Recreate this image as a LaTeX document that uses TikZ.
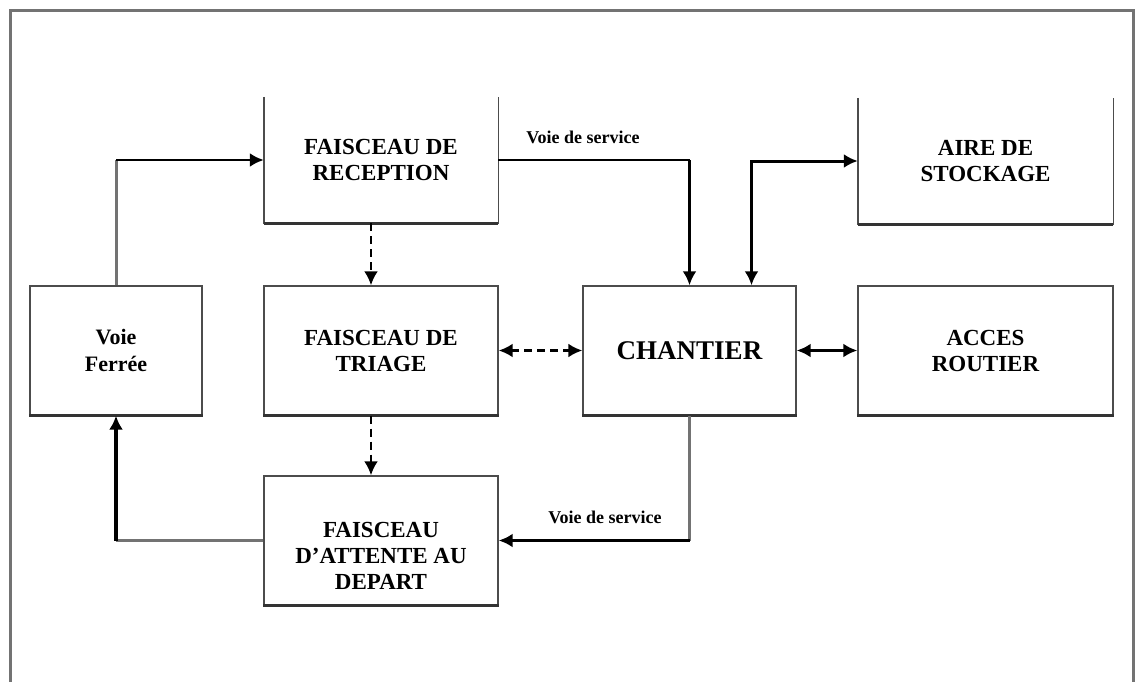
\documentclass[tikz,border=0pt]{standalone}
\usepackage{fontspec}
\setmainfont{Liberation Serif}
\usetikzlibrary{arrows.meta}
\begin{document}
\begin{tikzpicture}[x=1pt,y=-1pt,
  boxtext/.style={rectangle, align=center, inner sep=0pt, font=\bfseries\fontsize{23}{26}\selectfont},
  boxnode/.style={boxtext, draw=black!70, line width=1.4pt},
  boxline/.style={draw=black!70, line width=1.4pt},
  bottomline/.style={draw=black!80, line width=3pt},
  conn/.style={draw=black, line width=2.8pt},
  grayconn/.style={draw=black!55, line width=3pt},
  dashconn/.style={draw=black, line width=2.6pt, dash pattern=on 8pt off 5pt},
  tip/.style={-{Latex[length=14pt,width=14pt]}},
  tips/.style={{Latex[length=14pt,width=14pt]}-{Latex[length=14pt,width=14pt]}},
  lab/.style={inner sep=0pt, font=\bfseries\fontsize{18}{20}\selectfont}
]
\useasboundingbox (0,0) rectangle (1137,682);
% outer frame
\draw[black!55, line width=3pt] (10,700) -- (10,11) -- (1133,11) -- (1133,700);

% boxes
\node[boxtext, minimum width=234pt, minimum height=126pt] (rec) at (381,160) {FAISCEAU DE\\RECEPTION};
\node[boxtext, minimum width=255pt, minimum height=126pt] (sto) at (985.5,161) {AIRE DE\\STOCKAGE};
\draw[boxline] (rec.north west) -- (rec.south west) -- (rec.south east) -- (rec.north east);
\draw[boxline] (sto.north west) -- (sto.south west) -- (sto.south east) -- (sto.north east);

\node[boxnode, minimum width=172pt, minimum height=129pt, font=\bfseries\fontsize{22}{27}\selectfont] (vf) at (116,350.5) {Voie\\Ferrée};
\node[boxnode, minimum width=234pt, minimum height=129pt] (tri) at (381,350.5) {FAISCEAU DE\\TRIAGE};
\node[boxnode, minimum width=213pt, minimum height=129pt, font=\bfseries\fontsize{27}{30}\selectfont] (cha) at (689.5,350.5) {CHANTIER};
\node[boxnode, minimum width=255pt, minimum height=129pt] (acc) at (985.5,350.5) {ACCES\\ROUTIER};
\node[boxnode, minimum width=234pt, minimum height=129pt] (att) at (381,540.5) {};
\node[boxtext] (attT) at (381,556) {FAISCEAU\\D'ATTENTE AU\\DEPART};

\foreach \b in {rec,sto,vf,tri,cha,acc,att}
  \draw[bottomline] (\b.south west) -- (\b.south east);

% connectors
\coordinate (c1) at (vf.north |- rec.west);
\draw[grayconn] (vf.north) -- (c1);
\draw[conn, tip] (c1) -- (rec.west);

\draw[dashconn, tip] ([xshift=-10pt]rec.south) -- ([xshift=-10pt]tri.north);
\draw[dashconn, tip] ([xshift=-10pt]tri.south) -- ([xshift=-10pt]att.north);
\draw[dashconn, tips] (tri.east) -- (cha.west);

\coordinate (c2) at (cha.north |- rec.east);
\draw[conn, line width=2pt] (rec.east) -- (c2);
\draw[conn, line width=3.5pt, tip] (c2) -- (cha.north);

\draw[conn, line width=3pt, tips] ([xshift=62pt]cha.north) |- (sto.west);

\draw[conn, tips] (cha.east) -- (acc.west);

\coordinate (c4) at (cha.south |- att.east);
\draw[grayconn, line width=2.4pt] (cha.south) -- (c4);
\draw[conn, line width=3.5pt, tip] (c4) -- (att.east);

\coordinate (c5) at (vf.south |- att.west);
\draw[grayconn] (att.west) -- (c5);
\draw[conn, line width=3.5pt, tip] (c5) -- (vf.south);

% labels
\node[lab] (l1) at (583,137) {Voie de service};
\node[lab] (l2) at (605,517) {Voie de service};
\end{tikzpicture}
\end{document}
